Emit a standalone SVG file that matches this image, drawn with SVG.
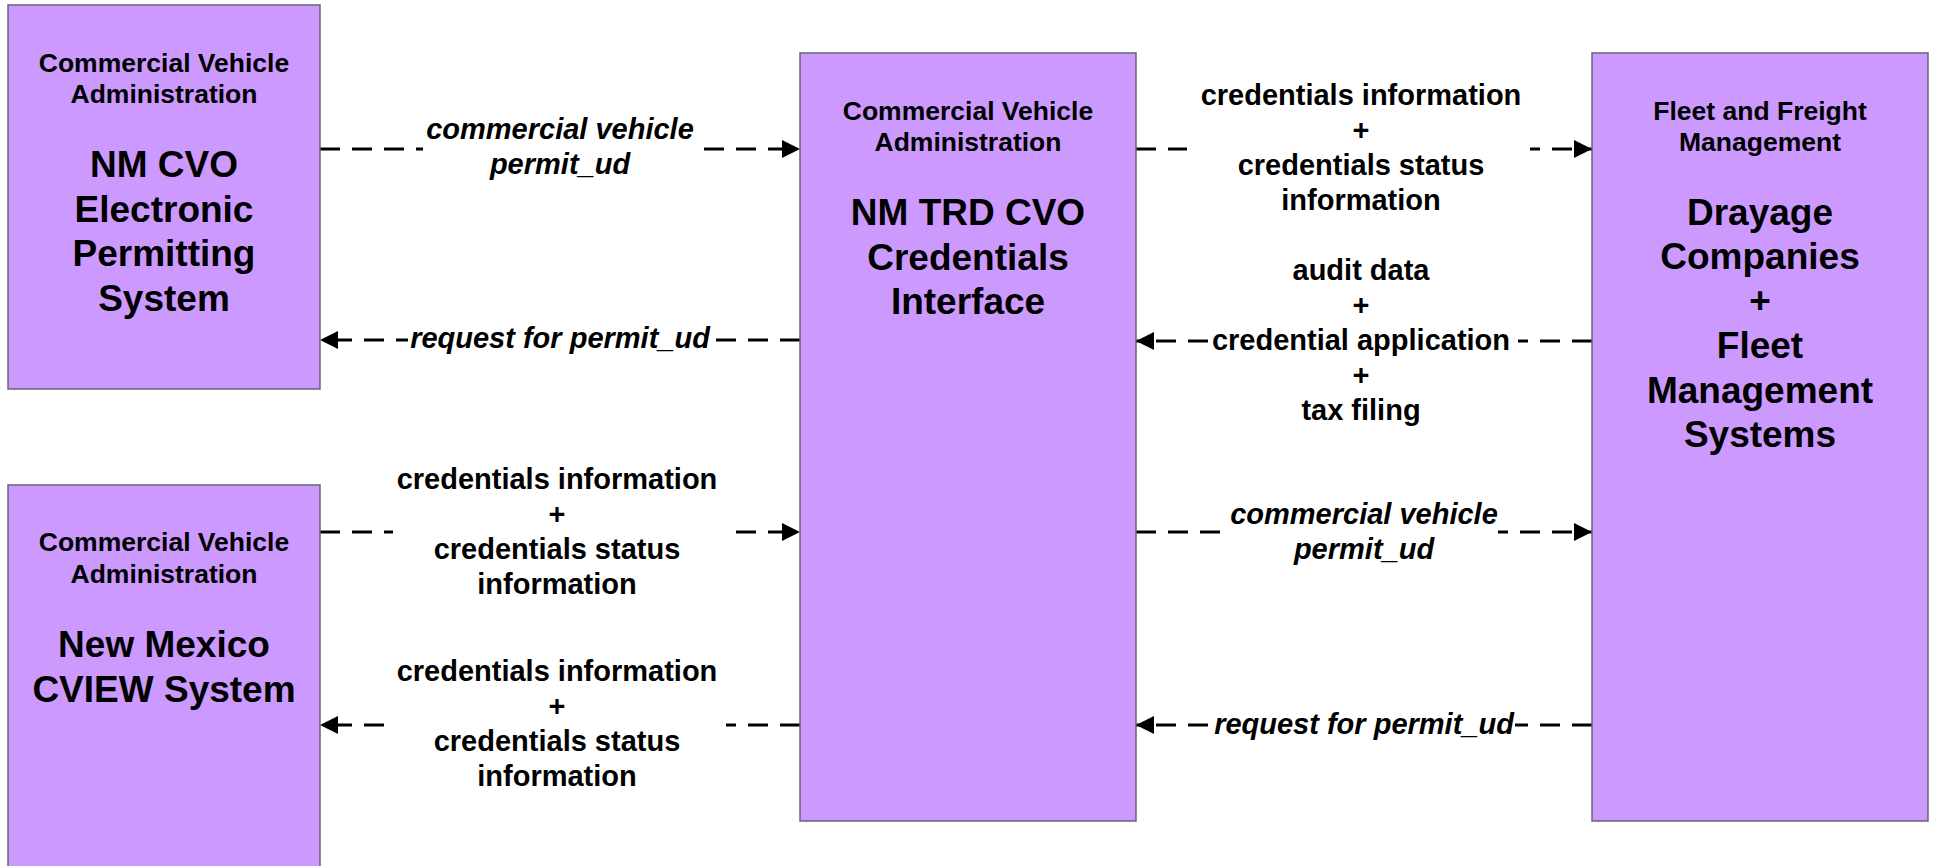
<svg xmlns="http://www.w3.org/2000/svg" width="1937" height="866" viewBox="0 0 1937 866">
<defs>
<style>
.box{fill:#CC99FF;stroke:#6b6478;stroke-width:1.5}
.t{font-family:"Liberation Sans",Arial,sans-serif;font-weight:bold;text-anchor:middle;fill:#000}
.s{font-size:26.5px}
.b{font-size:37px}
.l{font-size:29px}
.i{font-style:italic}
.c{fill:none;stroke:#000;stroke-width:3;stroke-dasharray:20 12}
.bg{fill:#fff}
</style>
<marker id="ah" markerUnits="userSpaceOnUse" markerWidth="18" markerHeight="18" refX="18" refY="9" orient="auto">
<path d="M0,0 L18,9 L0,18 Z" fill="#000"/>
</marker>
</defs>
<rect width="1937" height="866" fill="#fff"/>

<g id="connectors">
<path class="c" d="M320,149 H800" marker-end="url(#ah)"/>
<path class="c" d="M800,340 H320" marker-end="url(#ah)"/>
<path class="c" d="M320,532 H800" marker-end="url(#ah)"/>
<path class="c" d="M800,725 H320" marker-end="url(#ah)"/>
<path class="c" d="M1136,149 H1592" marker-end="url(#ah)"/>
<path class="c" d="M1592,341 H1136" marker-end="url(#ah)"/>
<path class="c" d="M1136,532 H1592" marker-end="url(#ah)"/>
<path class="c" d="M1592,725 H1136" marker-end="url(#ah)"/>

<rect class="bg" x="423" y="140" width="279" height="18"/>
<rect class="bg" x="408" y="331" width="306" height="18"/>
<rect class="bg" x="393" y="523" width="342" height="18"/>
<rect class="bg" x="385" y="716" width="341" height="18"/>
<rect class="bg" x="1187" y="140" width="343" height="18"/>
<rect class="bg" x="1208" y="332" width="310" height="18"/>
<rect class="bg" x="1220" y="523" width="278" height="18"/>
<rect class="bg" x="1208" y="716" width="307" height="18"/>

<text class="t l i" x="560" y="139">commercial vehicle</text>
<text class="t l i" x="560" y="174">permit_ud</text>

<text class="t l i" x="560" y="348">request for permit_ud</text>

<text class="t l" x="557" y="489">credentials information</text>
<text class="t l" x="557" y="524">+</text>
<text class="t l" x="557" y="559">credentials status</text>
<text class="t l" x="557" y="594">information</text>

<text class="t l" x="557" y="681">credentials information</text>
<text class="t l" x="557" y="716">+</text>
<text class="t l" x="557" y="751">credentials status</text>
<text class="t l" x="557" y="786">information</text>

<text class="t l" x="1361" y="105">credentials information</text>
<text class="t l" x="1361" y="140">+</text>
<text class="t l" x="1361" y="175">credentials status</text>
<text class="t l" x="1361" y="210">information</text>

<text class="t l" x="1361" y="280">audit data</text>
<text class="t l" x="1361" y="315">+</text>
<text class="t l" x="1361" y="350">credential application</text>
<text class="t l" x="1361" y="385">+</text>
<text class="t l" x="1361" y="420">tax filing</text>

<text class="t l i" x="1364" y="524">commercial vehicle</text>
<text class="t l i" x="1364" y="559">permit_ud</text>

<text class="t l i" x="1364" y="734">request for permit_ud</text>
</g>

<g id="nm-cvo-epermit">
<rect class="box" x="8" y="5" width="312" height="384"/>
<text class="t s" x="164" y="72">Commercial Vehicle</text>
<text class="t s" x="164" y="103">Administration</text>
<text class="t b" x="164" y="177">NM CVO</text>
<text class="t b" x="164" y="222">Electronic</text>
<text class="t b" x="164" y="266">Permitting</text>
<text class="t b" x="164" y="311">System</text>
</g>

<g id="nm-cview">
<rect class="box" x="8" y="485" width="312" height="400"/>
<text class="t s" x="164" y="551">Commercial Vehicle</text>
<text class="t s" x="164" y="583">Administration</text>
<text class="t b" x="164" y="657">New Mexico</text>
<text class="t b" x="164" y="702">CVIEW System</text>
</g>

<g id="nm-trd-cvo">
<rect class="box" x="800" y="53" width="336" height="768"/>
<text class="t s" x="968" y="120">Commercial Vehicle</text>
<text class="t s" x="968" y="151">Administration</text>
<text class="t b" x="968" y="225">NM TRD CVO</text>
<text class="t b" x="968" y="270">Credentials</text>
<text class="t b" x="968" y="314">Interface</text>
</g>

<g id="drayage-fleet">
<rect class="box" x="1592" y="53" width="336" height="768"/>
<text class="t s" x="1760" y="120">Fleet and Freight</text>
<text class="t s" x="1760" y="151">Management</text>
<text class="t b" x="1760" y="225">Drayage</text>
<text class="t b" x="1760" y="269">Companies</text>
<text class="t b" x="1760" y="313">+</text>
<text class="t b" x="1760" y="358">Fleet</text>
<text class="t b" x="1760" y="403">Management</text>
<text class="t b" x="1760" y="447">Systems</text>
</g>
</svg>
